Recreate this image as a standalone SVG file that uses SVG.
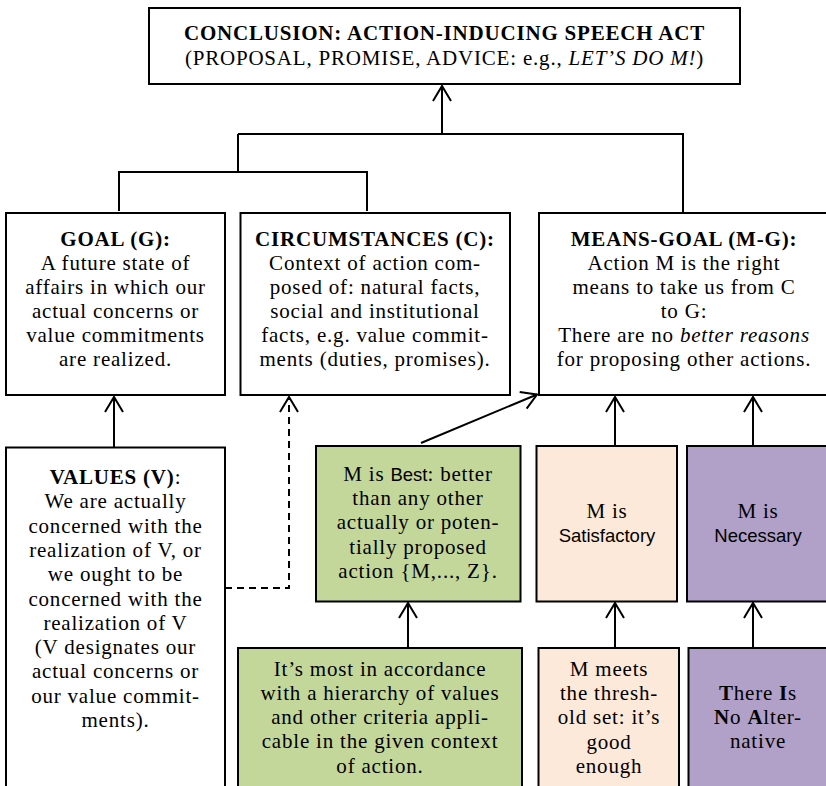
<svg xmlns="http://www.w3.org/2000/svg" width="826" height="786" viewBox="0 0 826 786">
<defs>
<style>
.box{stroke:#000;stroke-width:2}
.w{fill:#fff}
.g{fill:#c4d79b}
.o{fill:#fde9d9}
.p{fill:#b1a0c7}
.t{font-family:"Liberation Serif",serif;font-size:21px;letter-spacing:0.8px;text-anchor:middle;fill:#000}
.b{font-weight:bold}
.i{font-style:italic}
.s{font-family:"Liberation Sans",sans-serif;font-size:18.5px;letter-spacing:0}
.c{fill:none;stroke:#000;stroke-width:2}
.d{stroke-dasharray:7 5}
</style>
<marker id="arr" viewBox="-18 -11 20 22" refX="0" refY="0" markerWidth="20" markerHeight="22" markerUnits="userSpaceOnUse" orient="auto" overflow="visible">
<path d="M-15 -9 L0 0 L-15 9" fill="none" stroke="#000" stroke-width="2"/>
</marker>
</defs>

<g id="connectors" class="c">
<path d="M442 134 V86" marker-end="url(#arr)"/>
<path d="M238 134 H683 V212"/>
<path d="M238 134 V172"/>
<path d="M119 211 V172 H367 V211"/>
<path d="M114 447 V397" marker-end="url(#arr)"/>
<path class="d" d="M225 588 H289 V397" marker-end="url(#arr)"/>
<path d="M421 443 L537 394.5" marker-end="url(#arr)"/>
<path d="M615 446 V397" marker-end="url(#arr)"/>
<path d="M753 446 V397" marker-end="url(#arr)"/>
<path d="M408 648 V603" marker-end="url(#arr)"/>
<path d="M615 648 V603" marker-end="url(#arr)"/>
<path d="M753 648 V603" marker-end="url(#arr)"/>
</g>

<g id="conclusion">
<rect class="box w" x="149" y="8" width="591" height="76"/>
<text class="t" x="444.5" y="40"><tspan class="b">CONCLUSION: ACTION-INDUCING SPEECH ACT</tspan></text>
<text class="t" x="444.5" y="65">(PROPOSAL, PROMISE, ADVICE: e.g., <tspan class="i">LET’S DO M!</tspan>)</text>
</g>

<g id="goal">
<rect class="box w" x="6" y="213" width="219" height="182"/>
<text class="t" x="115.5" y="246"><tspan class="b">GOAL (G):</tspan></text>
<text class="t" x="115.5" y="270">A future state of</text>
<text class="t" x="115.5" y="294">affairs in which our</text>
<text class="t" x="115.5" y="318">actual concerns or</text>
<text class="t" x="115.5" y="342">value commitments</text>
<text class="t" x="115.5" y="366">are realized.</text>
</g>

<g id="circumstances">
<rect class="box w" x="240.5" y="213" width="269.5" height="182"/>
<text class="t" x="375" y="246"><tspan class="b">CIRCUMSTANCES (C):</tspan></text>
<text class="t" x="375" y="270">Context of action com-</text>
<text class="t" x="375" y="294">posed of: natural facts,</text>
<text class="t" x="375" y="318">social and institutional</text>
<text class="t" x="375" y="342">facts, e.g. value commit-</text>
<text class="t" x="375" y="366">ments (duties, promises).</text>
</g>

<g id="means-goal">
<rect class="box w" x="539" y="213" width="292" height="182"/>
<text class="t" x="684" y="246"><tspan class="b">MEANS-GOAL (M-G):</tspan></text>
<text class="t" x="684" y="270">Action M is the right</text>
<text class="t" x="684" y="294">means to take us from C</text>
<text class="t" x="684" y="318">to G:</text>
<text class="t" x="684" y="342">There are no <tspan class="i">better reasons</tspan></text>
<text class="t" x="684" y="366">for proposing other actions.</text>
</g>

<g id="values">
<rect class="box w" x="6" y="447.5" width="219" height="350"/>
<text class="t" x="115.5" y="484"><tspan class="b">VALUES (V)</tspan>:</text>
<text class="t" x="115.5" y="508">We are actually</text>
<text class="t" x="115.5" y="533">concerned with the</text>
<text class="t" x="115.5" y="557">realization of V, or</text>
<text class="t" x="115.5" y="581">we ought to be</text>
<text class="t" x="115.5" y="606">concerned with the</text>
<text class="t" x="115.5" y="630">realization of V</text>
<text class="t" x="115.5" y="654">(V designates our</text>
<text class="t" x="115.5" y="678">actual concerns or</text>
<text class="t" x="115.5" y="703">our value commit-</text>
<text class="t" x="115.5" y="727">ments).</text>
</g>

<g id="best">
<rect class="box g" x="316" y="446" width="204.5" height="155.5"/>
<text class="t" x="418" y="481">M is <tspan class="s">Best</tspan>: better</text>
<text class="t" x="418" y="505">than any other</text>
<text class="t" x="418" y="529">actually or poten-</text>
<text class="t" x="418" y="554">tially proposed</text>
<text class="t" x="418" y="578">action {M,..., Z}.</text>
</g>

<g id="satisfactory">
<rect class="box o" x="536.5" y="446" width="140.5" height="155.5"/>
<text class="t" x="607" y="518">M is</text>
<text class="t s" x="607" y="542">Satisfactory</text>
</g>

<g id="necessary">
<rect class="box p" x="687" y="446" width="145" height="155.5"/>
<text class="t" x="758" y="518">M is</text>
<text class="t s" x="758" y="542">Necessary</text>
</g>

<g id="hierarchy">
<rect class="box g" x="238" y="648" width="284" height="150"/>
<text class="t" x="380" y="676">It’s most in accordance</text>
<text class="t" x="380" y="700">with a hierarchy of values</text>
<text class="t" x="380" y="724">and other criteria appli-</text>
<text class="t" x="380" y="748">cable in the given context</text>
<text class="t" x="380" y="773">of action.</text>
</g>

<g id="threshold">
<rect class="box o" x="538.5" y="648" width="140.5" height="150"/>
<text class="t" x="609" y="676">M meets</text>
<text class="t" x="609" y="700">the thresh-</text>
<text class="t" x="609" y="724">old set: it’s</text>
<text class="t" x="609" y="749">good</text>
<text class="t" x="609" y="773">enough</text>
</g>

<g id="tina">
<rect class="box p" x="688.5" y="648" width="145" height="150"/>
<text class="t" x="758" y="700"><tspan class="b">T</tspan>here <tspan class="b">I</tspan>s</text>
<text class="t" x="758" y="724"><tspan class="b">N</tspan>o <tspan class="b">A</tspan>lter-</text>
<text class="t" x="758" y="748">native</text>
</g>
</svg>
